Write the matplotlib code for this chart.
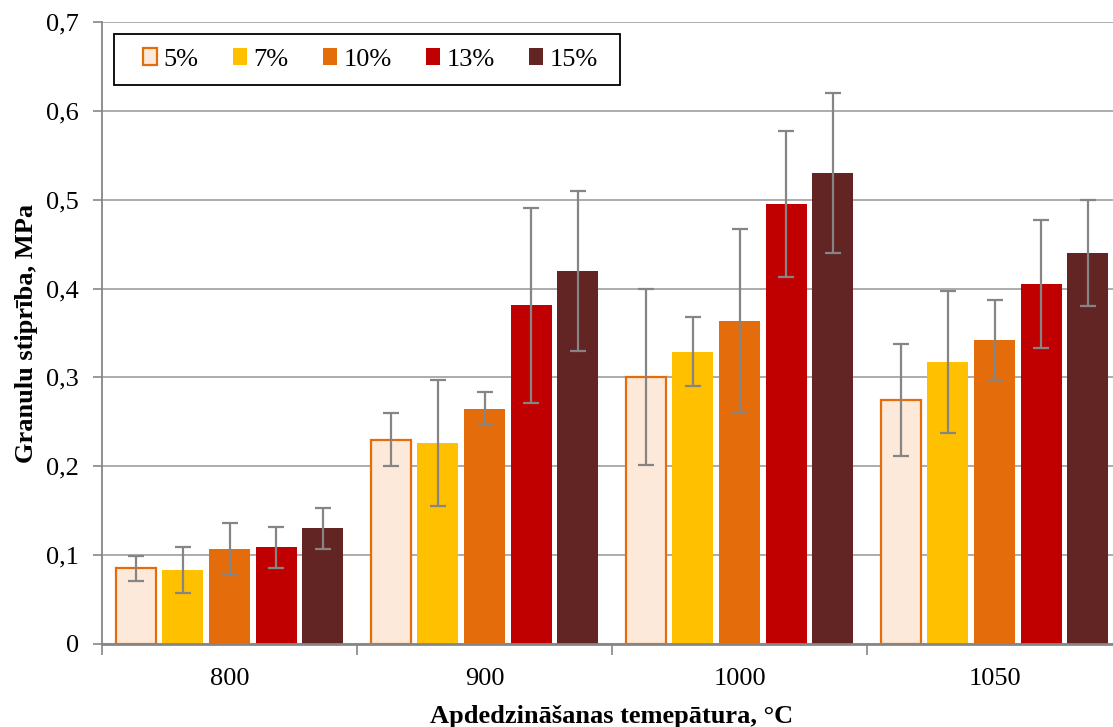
import matplotlib
matplotlib.use("Agg")
import matplotlib.pyplot as plt
from matplotlib.patches import Rectangle
import numpy as np

# Annealing temperatures (categories) and series labels
temperatures = ["800", "900", "1000", "1050"]
series_labels = ["5%", "7%", "10%", "13%", "15%"]

# Pellet strength, MPa (mean values)
strength_5 = [0.085, 0.230, 0.300, 0.275]
strength_7 = [0.083, 0.226, 0.329, 0.317]
strength_10 = [0.107, 0.265, 0.364, 0.342]
strength_13 = [0.109, 0.381, 0.495, 0.405]
strength_15 = [0.130, 0.420, 0.530, 0.440]

# Standard deviations (symmetric error bars)
err_5 = [0.014, 0.030, 0.099, 0.063]
err_7 = [0.026, 0.071, 0.039, 0.080]
err_10 = [0.029, 0.019, 0.103, 0.045]
err_13 = [0.023, 0.110, 0.082, 0.072]
err_15 = [0.023, 0.090, 0.090, 0.060]

values = [strength_5, strength_7, strength_10, strength_13, strength_15]
errors = [err_5, err_7, err_10, err_13, err_15]
face_colors = ["#FDE9D9", "#FFC000", "#E46C0A", "#C00000", "#632523"]
edge_colors = ["#E46C0A", "#FFC000", "#E46C0A", "#C00000", "#632523"]

plt.rcParams["font.family"] = ["Liberation Serif", "DejaVu Serif"]
FS = 19

W, H = 1113, 727
fig = plt.figure(figsize=(W / 100, H / 100), dpi=100)
left, right, bottom, top = 102, 1122, 644, 22
ax = fig.add_axes([left / W, 1 - bottom / H, (right - left) / W, (bottom - top) / H])

x = np.arange(len(temperatures))
slot = 0.183
bar_w = 0.162
grid_color = "#A6A6A6"
axis_color = "#868686"

for i, (vals, errs) in enumerate(zip(values, errors)):
    pos = x + (i - 2) * slot
    lw = 1.6 if i == 0 else 0.0
    ax.bar(pos, vals, width=bar_w if i else bar_w - 0.006, color=face_colors[i],
           edgecolor=edge_colors[i], linewidth=lw, label=series_labels[i], zorder=2)
    ax.errorbar(pos, vals, yerr=errs, fmt="none", ecolor="#858585",
                elinewidth=1.6, capsize=5.5, capthick=1.6, zorder=3)

ax.set_xlim(-0.5, 3.5)
ax.set_ylim(0, 0.7)

# Y axis with comma decimal labels
yt = np.round(np.arange(0, 0.71, 0.1), 1)
ax.set_yticks(yt)
ax.set_yticklabels(["0"] + [f"{v:.1f}".replace(".", ",") for v in yt[1:]], fontsize=FS)
ax.yaxis.grid(True, color=grid_color, linewidth=1.3, zorder=0)
ax.set_axisbelow(True)

# Category boundary ticks and centred labels
ax.set_xticks(np.arange(-0.5, 3.6, 1.0))
ax.set_xticklabels([])
ax.set_xticks(x, minor=True)
ax.set_xticklabels(temperatures, minor=True, fontsize=FS)
ax.tick_params(axis="x", which="major", length=8, width=1.2, color=axis_color)
ax.tick_params(axis="x", which="minor", length=0, pad=17)
ax.tick_params(axis="y", length=6.5, width=1.2, color=axis_color, pad=10)

for side in ["top", "right"]:
    ax.spines[side].set_visible(False)
ax.spines["left"].set_color(axis_color)
ax.spines["left"].set_linewidth(1.3)
ax.spines["bottom"].set_color(axis_color)
ax.spines["bottom"].set_linewidth(2.0)

ax.set_xlabel("Apdedzināšanas temepātura, °C", fontsize=FS, fontweight="bold", labelpad=11)
ax.set_ylabel("Granulu stiprība, MPa", fontsize=FS, fontweight="bold", labelpad=6)

# Legend frame drawn as a figure rectangle, entries centred inside it
bx0, bx1, by0, by1 = 114, 620, 34, 85
fig.patches.append(Rectangle((bx0 / W, 1 - by1 / H), (bx1 - bx0) / W, (by1 - by0) / H,
                             transform=fig.transFigure, fill=True, facecolor="white",
                             edgecolor="black", linewidth=1.3, zorder=4))
leg = fig.legend(*ax.get_legend_handles_labels(), loc="center",
                 bbox_to_anchor=((bx0 + bx1) / 2 / W + 0.003, 1 - (by0 + by1) / 2 / H),
                 ncol=5, fontsize=FS, frameon=False, handlelength=0.53,
                 handleheight=0.57, handletextpad=0.25, columnspacing=1.3,
                 borderpad=0, borderaxespad=0)
leg.set_zorder(5)

fig.savefig("out.png", dpi=100)
